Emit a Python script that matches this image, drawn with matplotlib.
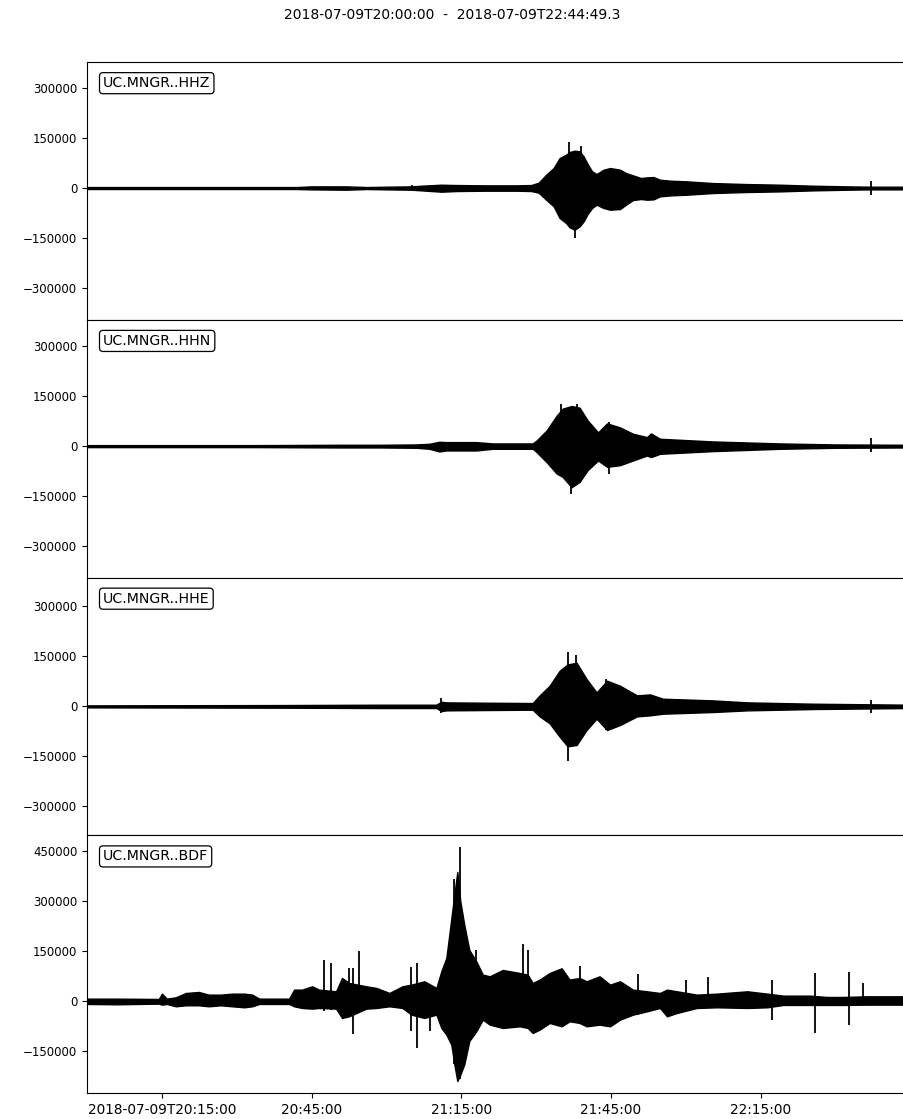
import matplotlib
matplotlib.use("Agg")
import numpy as np
import matplotlib.pyplot as plt
from matplotlib.ticker import FuncFormatter, FixedLocator

# time axis in minutes after 2018-07-09T20:00:00
t_end = 164.822

channels = ["UC.MNGR..HHZ", "UC.MNGR..HHN", "UC.MNGR..HHE", "UC.MNGR..BDF"]

# envelope knots: minutes, upper amplitude, lower amplitude (counts)
hhz_t = [0, 20, 42, 45, 52, 56, 60, 65, 67, 71, 74, 80, 86, 89, 90.5, 92, 93.5, 94.7,
         96, 96.7, 97.7, 98.7, 99.5, 100.3, 101.2, 102.1, 103.5, 104.8, 106.8, 108,
         109.4, 111, 112.2, 113.5, 114.8, 117, 120.2, 125.4, 132, 138.9, 145.5, 152.3,
         157, t_end]
hhz_up = [3e3, 3e3, 3e3, 5e3, 5e3, 3e3, 4e3, 5e3, 7e3, 10e3, 9e3, 8e3, 8e3, 9e3, 16e3,
          40e3, 60e3, 90e3, 100e3, 108e3, 112e3, 110e3, 95e3, 72e3, 50e3, 42e3, 55e3,
          60e3, 55e3, 45e3, 38e3, 30e3, 32e3, 33e3, 25e3, 22e3, 20e3, 15e3, 12e3, 10e3,
          7e3, 5e3, 4e3, 4e3]
hhz_lo = [-3e3, -3e3, -3e3, -4e3, -5e3, -3e3, -4e3, -5e3, -7e3, -11e3, -9e3, -8e3, -8e3,
          -9e3, -14e3, -35e3, -55e3, -90e3, -105e3, -118e3, -125e3, -115e3, -100e3,
          -78e3, -60e3, -50e3, -60e3, -65e3, -63e3, -50e3, -36e3, -33e3, -35e3, -34e3,
          -25e3, -22e3, -20e3, -15e3, -12e3, -10e3, -7e3, -5e3, -4e3, -4e3]
# isolated spikes: minute, low, high
hhz_spikes = [(65.2, -7e3, 8e3), (96.5, -100e3, 138e3), (97.8, -151e3, 100e3),
              (99.0, -100e3, 125e3), (157.0, -22e3, 22e3)]

hhn_t = [0, 34.5, 50, 58.6, 66, 68.6, 70.6, 72.0, 78, 81.3, 89.3, 90.1, 92.1, 94.1, 95.3,
         97.1, 98.7, 100.3, 102.4, 104.2, 106.8, 109.4, 112.2, 113.0, 114.8, 125.4,
         138.9, 150, t_end]
hhn_up = [3e3, 3e3, 4e3, 4e3, 5e3, 7e3, 13e3, 12e3, 12e3, 8e3, 8e3, 17e3, 47e3, 91e3,
          112e3, 120e3, 115e3, 77e3, 41e3, 68e3, 56e3, 37e3, 27e3, 38e3, 22e3, 14e3,
          8e3, 5e3, 4e3]
hhn_lo = [-3e3, -3e3, -4e3, -4e3, -5e3, -8e3, -16e3, -13e3, -13e3, -8e3, -8e3, -18e3,
          -48e3, -82e3, -92e3, -123e3, -107e3, -72e3, -43e3, -62e3, -57e3, -43e3, -28e3,
          -33e3, -23e3, -15e3, -8e3, -5e3, -4e3]
hhn_spikes = [(95.0, -80e3, 127e3), (96.9, -143e3, 100e3), (98.2, -90e3, 125e3),
              (104.5, -82e3, 72e3), (157.0, -18e3, 25e3)]

hhe_t = [0, 40, 58.6, 70.0, 71.0, 72.0, 80, 89.3, 90.7, 92.7, 94.7, 96.3, 98.1, 100.1,
         102.1, 104.2, 106.8, 110.2, 112.8, 115.4, 125.4, 132.3, 145.5, t_end]
hhe_up = [3e3, 4e3, 5e3, 5e3, 14e3, 12e3, 11e3, 10e3, 33e3, 62e3, 107e3, 126e3, 131e3,
          82e3, 42e3, 77e3, 62e3, 33e3, 36e3, 23e3, 18e3, 12e3, 8e3, 5e3]
hhe_lo = [-3e3, -4e3, -5e3, -5e3, -14e3, -12e3, -11e3, -10e3, -30e3, -51e3, -91e3,
          -120e3, -116e3, -71e3, -37e3, -71e3, -56e3, -30e3, -27e3, -22e3, -17e3, -12e3,
          -8e3, -5e3]
hhe_spikes = [(71.0, -20e3, 26e3), (96.4, -163e3, 163e3), (98.0, -110e3, 154e3),
              (104.0, -70e3, 82e3), (157.0, -20e3, 20e3)]

bdf_t = [0, 6, 14.4, 15.0, 16, 17.8, 19.8, 22.4, 24.4, 26.8, 29.1, 31.5, 33.1, 34.5,
         40.5, 41.5, 43.1, 45.1, 46.5, 49.9, 51.1, 52.5, 55.96, 58.0, 60.6, 63.2, 65.0,
         67.6, 70.0, 71.0, 72.0, 73.0, 73.6, 74.2, 74.8, 75.6, 76.6, 78.0, 79.3, 80.7,
         83.3, 86.7, 88.3, 89.3, 90.7, 92.7, 95.1, 96.7, 98.7, 100.1, 102.7, 104.8,
         106.8, 109.4, 112.2, 114.8, 116.2, 118.2, 122.2, 126.2, 132.3, 136.3, 139.5,
         144.9, 148.3, 151.4, 156.4, t_end]
bdf_up = [8e3, 8e3, 7e3, 23e3, 8e3, 12e3, 25e3, 28e3, 20e3, 20e3, 23e3, 23e3, 20e3, 8e3,
          8e3, 35e3, 35e3, 45e3, 35e3, 30e3, 70e3, 55e3, 45e3, 40e3, 25e3, 45e3, 50e3,
          60e3, 40e3, 90e3, 130e3, 248e3, 320e3, 388e3, 300e3, 229e3, 154e3, 120e3,
          80e3, 75e3, 94e3, 85e3, 80e3, 55e3, 65e3, 85e3, 99e3, 65e3, 70e3, 60e3, 75e3,
          50e3, 60e3, 35e3, 30e3, 25e3, 35e3, 30e3, 20e3, 23e3, 30e3, 23e3, 17e3, 17e3,
          13e3, 13e3, 15e3, 15e3]
bdf_lo = [-8e3, -9e3, -7e3, -10e3, -8e3, -15e3, -12e3, -12e3, -15e3, -12e3, -15e3,
          -18e3, -15e3, -8e3, -8e3, -15e3, -20e3, -22e3, -20e3, -22e3, -50e3, -45e3,
          -22e3, -20e3, -15e3, -20e3, -40e3, -50e3, -40e3, -80e3, -100e3, -130e3,
          -189e3, -239e3, -220e3, -189e3, -119e3, -90e3, -55e3, -70e3, -80e3, -75e3,
          -80e3, -95e3, -85e3, -65e3, -75e3, -60e3, -65e3, -75e3, -70e3, -75e3, -55e3,
          -40e3, -30e3, -20e3, -45e3, -35e3, -20e3, -18e3, -20e3, -18e3, -11e3, -11e3,
          -11e3, -11e3, -10e3, -10e3]
bdf_spikes = [(47.5, -30e3, 124e3), (48.9, -25e3, 116e3), (52.5, -40e3, 100e3),
              (53.2, -97e3, 100e3), (54.4, -20e3, 152e3), (65.0, -90e3, 104e3),
              (66.2, -139e3, 114e3), (68.8, -90e3, 50e3), (73.6, -189e3, 368e3),
              (74.8, -233e3, 463e3), (78.0, -80e3, 154e3), (87.3, -60e3, 172e3),
              (88.3, -60e3, 154e3), (98.7, -60e3, 106e3), (110.4, -40e3, 82e3),
              (120.0, -25e3, 63e3), (124.4, -20e3, 72e3), (137.3, -55e3, 65e3),
              (145.9, -95e3, 85e3), (152.6, -70e3, 87e3), (155.4, -10e3, 55e3)]

traces = [(hhz_t, hhz_up, hhz_lo, hhz_spikes),
          (hhn_t, hhn_up, hhn_lo, hhn_spikes),
          (hhe_t, hhe_up, hhe_lo, hhe_spikes),
          (bdf_t, bdf_up, bdf_lo, bdf_spikes)]

ylims = [(-395000, 378000), (-393000, 378000), (-387000, 387000), (-275000, 498000)]
yticks = [[-300000, -150000, 0, 150000, 300000]] * 3 + [[-150000, 0, 150000, 300000, 450000]]
xticks = [15, 45, 75, 105, 135]

W, H = 904, 1119
fig = plt.figure(figsize=(W / 100, H / 100), dpi=100)
left, right = 87 / W, 909.6 / W
top, bottom = 62 / H, 1093 / H
ph = (bottom - top) / 4


def fmt_time(x, pos):
    total = int(round(x * 60))
    h = 20 + total // 3600
    m = (total % 3600) // 60
    s = total % 60
    label = f"{h:02d}:{m:02d}:{s:02d}"
    if pos == 0:
        label = "2018-07-09T" + label
    return label


for i, (name, (t, up, lo, spikes)) in enumerate(zip(channels, traces)):
    ax = fig.add_axes([left, 1 - top - (i + 1) * ph, right - left, ph])
    ax.fill_between(t, lo, up, color="k", lw=1.0)
    for ts, lo_s, hi_s in spikes:
        ax.vlines(ts, lo_s, hi_s, color="k", lw=1.3)
    ax.set_xlim(0, t_end)
    ax.set_ylim(*ylims[i])
    ax.yaxis.set_major_locator(FixedLocator(yticks[i]))
    ax.yaxis.set_major_formatter(FuncFormatter(lambda v, p: f"{int(v)}".replace("-", "\u2212")))
    ax.tick_params(axis="y", labelsize=8.5)
    ax.xaxis.set_major_locator(FixedLocator(xticks))
    if i < 3:
        ax.tick_params(axis="x", labelbottom=False, length=0)
    else:
        ax.xaxis.set_major_formatter(FuncFormatter(fmt_time))
        ax.tick_params(axis="x", labelsize=9.8)
    ax.text(0.0195, 0.945, name, transform=ax.transAxes, ha="left", va="top",
            fontsize=10.2, bbox=dict(boxstyle="round,pad=0.25", fc="white", ec="k", lw=0.9))

fig.text(0.5, 1 - 15 / H, "2018-07-09T20:00:00  -  2018-07-09T22:44:49.3",
         ha="center", va="center", fontsize=10)

fig.savefig("out.png", dpi=100)
